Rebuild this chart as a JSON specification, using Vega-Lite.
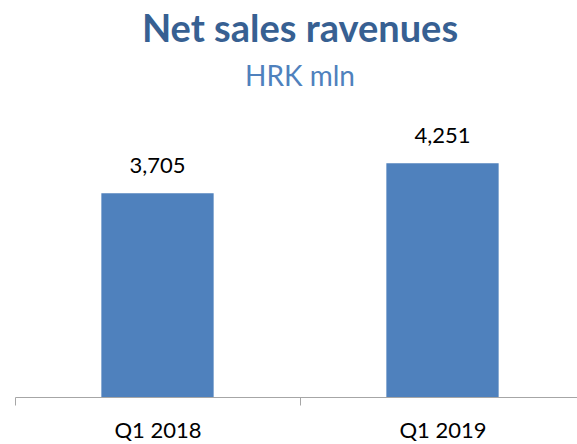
{
  "$schema": "https://vega.github.io/schema/vega-lite/v6.json",
  "autosize": "none",
  "width": 570,
  "height": 275,
  "padding": {"left": 15, "top": 122, "right": 0, "bottom": 47},
  "background": "white",
  "config": {"view": {"stroke": null}, "font": "Lato"},
  "title": {
    "text": "Net sales ravenues",
    "subtitle": "HRK mln",
    "anchor": "middle",
    "font": "Lato",
    "fontSize": 38,
    "fontWeight": "bold",
    "color": "#376092",
    "subtitleFont": "Lato",
    "subtitleFontSize": 28,
    "subtitleColor": "#4f81bd",
    "subtitlePadding": 14,
    "offset": 30
  },
  "data": {"values": [
    {"period": "Q1 2018", "value": 3705},
    {"period": "Q1 2019", "value": 4251}
  ]},
  "encoding": {
    "x": {
      "field": "period", "type": "nominal",
      "scale": {"paddingInner": 0, "paddingOuter": 0},
      "axis": {
        "title": null, "labelAngle": 0, "tickBand": "extent",
        "domainColor": "#a6a6a6", "tickColor": "#a6a6a6", "tickSize": 8,
        "labelFontSize": 22, "labelColor": "#000000", "labelPadding": 32,
        "labelBaseline": "alphabetic", "labelFont": "Lato"
      }
    },
    "y": {
      "field": "value", "type": "quantitative",
      "scale": {"domain": [0, 5000]},
      "axis": null
    }
  },
  "layer": [
    {"mark": {"type": "bar", "color": "#4f81bd", "width": {"band": 0.394}}},
    {"mark": {"type": "text", "baseline": "alphabetic", "dy": -20, "fontSize": 22, "color": "#000000", "font": "Lato"},
     "encoding": {"text": {"field": "value", "type": "quantitative", "format": ","}}}
  ]
}
